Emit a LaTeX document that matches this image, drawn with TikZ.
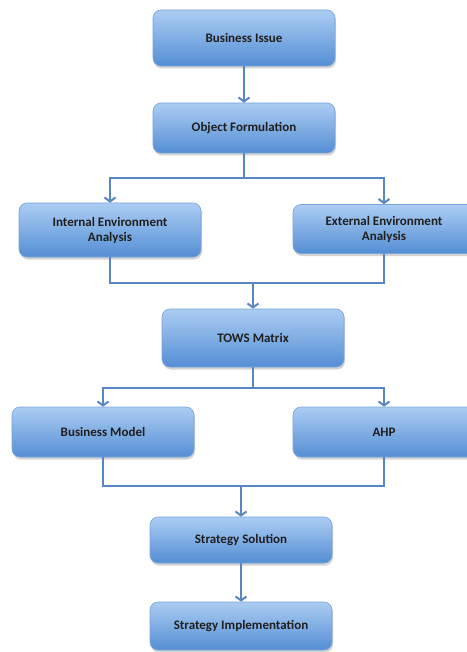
\documentclass[tikz,border=0pt]{standalone}
\usepackage{fontspec}
\setmainfont{Carlito}
\usepackage{xcolor}
\usetikzlibrary{arrows.meta,shadows}
\definecolor{boxtop}{RGB}{172,205,243}
\definecolor{boxbot}{RGB}{84,142,212}
\definecolor{boxedge}{RGB}{118,163,219}
\definecolor{linkblue}{RGB}{88,134,194}

\begin{document}
\begin{tikzpicture}[x=1pt,y=-1pt,
    stage/.style={rectangle,rounded corners=8pt,draw=boxedge,line width=0.6pt,
      top color=boxtop,bottom color=boxbot,minimum width=182pt,
      align=center,inner sep=2pt,
      font=\fontsize{13}{15}\selectfont\bfseries,text=black!88,
      drop shadow={opacity=0.35,shadow xshift=1pt,shadow yshift=-2.5pt}},
    link/.style={draw=linkblue,line width=2.8pt},
    flow/.style={link,-{Straight Barb[length=4pt,width=11pt,line width=2pt]}}]
            \useasboundingbox (0,0) rectangle (466,652);

            % Boxes
            \node[stage,minimum height=56pt] (issue) at (244,38) {Business Issue};
            \node[stage,minimum height=50pt] (object) at (244,128) {Object Formulation};
            \node[stage,minimum height=54pt] (internal) at (110,230) {Internal Environment\\Analysis};
            \node[stage,minimum height=49pt] (external) at (384,229) {External Environment\\Analysis};
            \node[stage,minimum height=58pt] (tows) at (253,338) {TOWS Matrix};
            \node[stage,minimum height=50pt] (bmodel) at (103,432) {Business Model};
            \node[stage,minimum height=50pt] (ahp) at (384,432) {AHP};
            \node[stage,minimum height=46pt] (solution) at (241,540) {Strategy Solution};
            \node[stage,minimum height=48pt] (implement) at (241,626) {Strategy Implementation};

            % Junction points
            \coordinate (split1) at (244,178);
            \coordinate (join1) at (253,283);
            \coordinate (split2) at (253,388);
            \coordinate (join2) at (241,486);

            % Connectors
            \draw[flow] (issue) -- (object);

            \draw[link] (object) -- (split1);
            \draw[flow] (split1) -| (internal.north);
            \draw[flow] (split1) -| (external.north);

            \draw[link] (internal.south) |- (join1) -| (external.south);
            \draw[flow] (join1) -- (tows.north);

            \draw[link] (tows) -- (split2);
            \draw[flow] (split2) -| (bmodel.north);
            \draw[flow] (split2) -| (ahp.north);

            \draw[link] (bmodel.south) |- (join2) -| (ahp.south);
            \draw[flow] (join2) -- (solution.north);

            \draw[flow] (solution) -- (implement);
        \end{tikzpicture}
\end{document}
